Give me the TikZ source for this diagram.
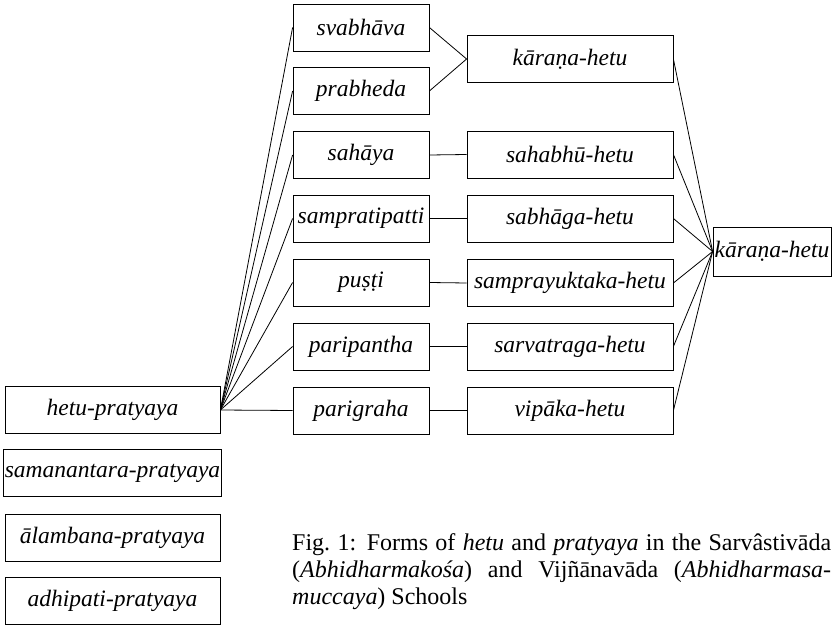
\documentclass[tikz,border=0pt]{standalone}
\usepackage{fontspec}
\setmainfont{Liberation Serif}

\begin{document}
\begin{tikzpicture}[x=1pt,y=-1pt,
    term/.style={draw,line width=0.8pt,minimum height=47pt,inner sep=1pt,
      font=\fontsize{23.5}{27}\selectfont\itshape},
    link/.style={line width=0.8pt}]
    \useasboundingbox (0,0) rectangle (834,628);
    % pratyaya
    \node[term,minimum width=215pt] (hetuP) at (112.5,410) {hetu-pratyaya};
    \node[term,minimum width=215pt] (samanP) at (112.5,473) {samanantara-pratyaya};
    \node[term,minimum width=215pt] (alambP) at (112.5,537.5) {ālambana-pratyaya};
    \node[term,minimum width=215pt] (adhiP) at (112.5,601) {adhipati-pratyaya};
    % hetu (Vijnanavada)
    \node[term,minimum width=136pt] (svabh) at (361,27.5) {svabhāva};
    \node[term,minimum width=136pt] (prabh) at (361,91) {prabheda};
    \node[term,minimum width=136pt] (sahaya) at (361,155) {sahāya};
    \node[term,minimum width=136pt] (sampr) at (361,218.5) {sampratipatti};
    \node[term,minimum width=136pt] (pusti) at (361,282.5) {puṣṭi};
    \node[term,minimum width=136pt] (parip) at (361,346.5) {paripantha};
    \node[term,minimum width=136pt] (parig) at (361,410.5) {parigraha};
    % hetu (Sarvastivada)
    \node[term,minimum width=206pt] (karana) at (570,59) {kāraṇa-hetu};
    \node[term,minimum width=206pt] (sahabhu) at (570,154.5) {sahabhū-hetu};
    \node[term,minimum width=206pt] (sabhaga) at (570,218.5) {sabhāga-hetu};
    \node[term,minimum width=206pt] (sampray) at (570,283) {samprayuktaka-hetu};
    \node[term,minimum width=206pt] (sarvat) at (570,346.5) {sarvatraga-hetu};
    \node[term,minimum width=206pt] (vipaka) at (570,410.5) {vipāka-hetu};
    \node[term,minimum width=118pt,minimum height=49pt] (karanaR) at (772,251.5) {kāraṇa-hetu};
    % connectors
    \draw[link] (hetuP.east) -- (svabh.west);
    \draw[link] (hetuP.east) -- (prabh.west);
    \draw[link] (hetuP.east) -- (sahaya.west);
    \draw[link] (hetuP.east) -- (sampr.west);
    \draw[link] (hetuP.east) -- (pusti.west);
    \draw[link] (hetuP.east) -- (parip.west);
    \draw[link] (hetuP.east) -- (parig.west);
    \draw[link] (svabh.east) -- (karana.west) -- (prabh.east);
    \draw[link] (sahaya.east) -- (sahabhu.west);
    \draw[link] (sampr.east) -- (sabhaga.west);
    \draw[link] (pusti.east) -- (sampray.west);
    \draw[link] (parip.east) -- (sarvat.west);
    \draw[link] (parig.east) -- (vipaka.west);
    \draw[link] (karana.east) -- (karanaR.west);
    \draw[link] (sahabhu.east) -- (karanaR.west);
    \draw[link] (sabhaga.east) -- (karanaR.west);
    \draw[link] (sampray.east) -- (karanaR.west);
    \draw[link] (sarvat.east) -- (karanaR.west);
    \draw[link] (vipaka.east) -- (karanaR.west);
    % caption
    \node[anchor=north west,text width=539pt,align=justify,inner sep=0pt,
      font=\fontsize{24}{27}\selectfont] (caption) at (292,533)
      {Fig.~1: Forms of \textit{hetu} and \textit{pratyaya} in the Sarvâstivāda\linebreak
       (\textit{Abhidharmakośa}) and Vijñānavāda (\textit{Abhidharmasa-}\linebreak
       \textit{muccaya}) Schools};
\end{tikzpicture}
\end{document}
